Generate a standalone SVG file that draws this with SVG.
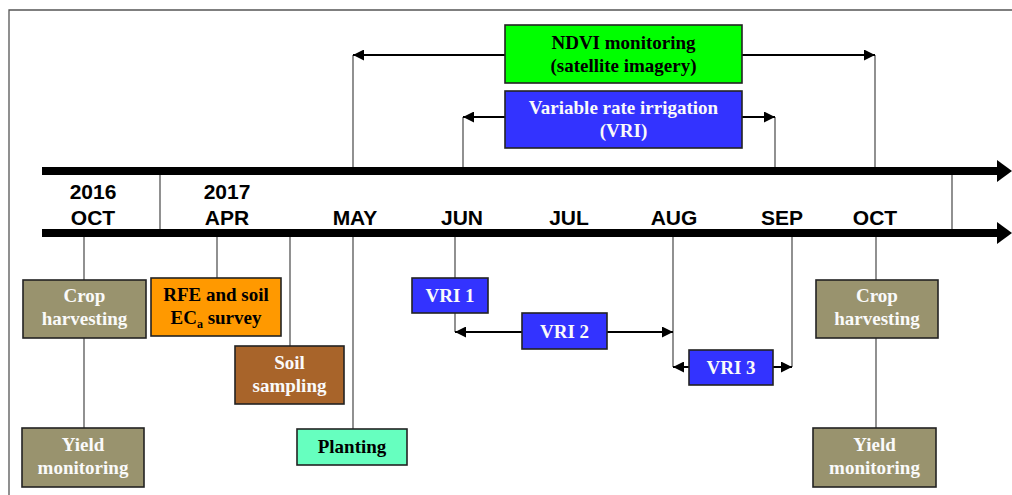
<svg xmlns="http://www.w3.org/2000/svg" width="1012" height="495" viewBox="0 0 1012 495">
<style>
.frame{stroke:#555;stroke-width:1.3;fill:none}
.vl{stroke:#555;stroke-width:1.3;fill:none}
.arr{stroke:#000;stroke-width:2;fill:none;marker-end:url(#ah)}
.box{stroke:#222;stroke-width:1.6}
.t{font-family:"Liberation Serif","Times New Roman",serif;font-weight:bold;font-size:19px;text-anchor:middle}
.w{fill:#fafafa}
.k{fill:#000}
.m{font-family:"Liberation Sans",Arial,sans-serif;font-weight:bold;font-size:21px;text-anchor:middle;fill:#000}
.olive{fill:#99936E}
.blue{fill:#3333FF}
</style>
<defs>
<marker id="ah" viewBox="0 0 10 10" refX="10" refY="5" markerUnits="userSpaceOnUse" markerWidth="11" markerHeight="11" orient="auto">
<path d="M0,0 L10,5 L0,10 z" fill="#000"/>
</marker>
</defs>
<path class="frame" d="M9,495 V10 H1012"/>
<g id="timeline">
<rect x="42" y="167" width="957" height="8" fill="#000"/>
<polygon points="997,160 1012,171 997,182" fill="#000"/>
<rect x="42" y="229" width="957" height="8" fill="#000"/>
<polygon points="997,222 1012,233 997,244" fill="#000"/>
<line class="vl" x1="160" y1="175" x2="160" y2="229"/>
<line class="vl" x1="952" y1="175" x2="952" y2="229"/>
<text class="m" x="93" y="199">2016</text>
<text class="m" x="93" y="225">OCT</text>
<text class="m" x="227" y="199">2017</text>
<text class="m" x="227" y="225">APR</text>
<text class="m" x="355" y="225">MAY</text>
<text class="m" x="462" y="225">JUN</text>
<text class="m" x="569" y="225">JUL</text>
<text class="m" x="674" y="225">AUG</text>
<text class="m" x="782" y="225">SEP</text>
<text class="m" x="875" y="225">OCT</text>
</g>
<g id="connectors">
<line class="vl" x1="353" y1="55" x2="353" y2="167"/>
<line class="vl" x1="875" y1="55" x2="875" y2="167"/>
<line class="vl" x1="463" y1="117" x2="463" y2="167"/>
<line class="vl" x1="775" y1="117" x2="775" y2="167"/>
<line class="vl" x1="84" y1="237" x2="84" y2="428"/>
<line class="vl" x1="217" y1="237" x2="217" y2="278"/>
<line class="vl" x1="290" y1="237" x2="290" y2="346"/>
<line class="vl" x1="353" y1="237" x2="353" y2="429"/>
<line class="vl" x1="455" y1="237" x2="455" y2="332"/>
<line class="vl" x1="673" y1="237" x2="673" y2="367"/>
<line class="vl" x1="792" y1="237" x2="792" y2="367"/>
<line class="vl" x1="876" y1="237" x2="876" y2="428"/>
<line class="arr" x1="505" y1="55" x2="353" y2="55"/>
<line class="arr" x1="742" y1="55" x2="875" y2="55"/>
<line class="arr" x1="505" y1="117" x2="463" y2="117"/>
<line class="arr" x1="742" y1="117" x2="775" y2="117"/>
<line class="arr" x1="522" y1="332" x2="455" y2="332"/>
<line class="arr" x1="607" y1="332" x2="673" y2="332"/>
<line class="arr" x1="689" y1="367" x2="673" y2="367"/>
<line class="arr" x1="773" y1="367" x2="792" y2="367"/>
</g>
<g id="ndvi">
<rect class="box" x="505" y="25" width="237" height="58" fill="#00FF00"/>
<text class="t k" x="623.5" y="49">NDVI monitoring</text>
<text class="t k" x="623.5" y="72">(satellite imagery)</text>
</g>
<g id="vri">
<rect class="box blue" x="505" y="91" width="237" height="57"/>
<text class="t w" x="623.5" y="114">Variable rate irrigation</text>
<text class="t w" x="623.5" y="137">(VRI)</text>
</g>
<g id="crop-left">
<rect class="box olive" x="23" y="280" width="123" height="58"/>
<text class="t w" x="84.5" y="302">Crop</text>
<text class="t w" x="84.5" y="325">harvesting</text>
</g>
<g id="yield-left">
<rect class="box olive" x="22" y="428" width="122" height="59"/>
<text class="t w" x="83" y="451">Yield</text>
<text class="t w" x="83" y="474">monitoring</text>
</g>
<g id="rfe">
<rect class="box" x="151" y="278" width="130" height="58" fill="#FF9900"/>
<text class="t k" x="216" y="301">RFE and soil</text>
<text class="t k" x="216" y="324">EC<tspan font-size="12" dy="4">a</tspan><tspan dy="-4"> survey</tspan></text>
</g>
<g id="soil">
<rect class="box" x="235" y="346" width="109" height="58" fill="#A8642A"/>
<text class="t w" x="289.5" y="369">Soil</text>
<text class="t w" x="289.5" y="392">sampling</text>
</g>
<g id="planting">
<rect class="box" x="297" y="429" width="110" height="36" fill="#66FFBF"/>
<text class="t k" x="352" y="453">Planting</text>
</g>
<g id="vri1">
<rect class="box blue" x="412" y="278" width="76" height="35"/>
<text class="t w" x="450" y="302">VRI 1</text>
</g>
<g id="vri2">
<rect class="box blue" x="522" y="313" width="85" height="36"/>
<text class="t w" x="564.5" y="338">VRI 2</text>
</g>
<g id="vri3">
<rect class="box blue" x="689" y="350" width="84" height="35"/>
<text class="t w" x="731" y="374">VRI 3</text>
</g>
<g id="crop-right">
<rect class="box olive" x="816" y="280" width="122" height="58"/>
<text class="t w" x="877" y="302">Crop</text>
<text class="t w" x="877" y="325">harvesting</text>
</g>
<g id="yield-right">
<rect class="box olive" x="813" y="428" width="123" height="59"/>
<text class="t w" x="874.5" y="451">Yield</text>
<text class="t w" x="874.5" y="474">monitoring</text>
</g>
</svg>
